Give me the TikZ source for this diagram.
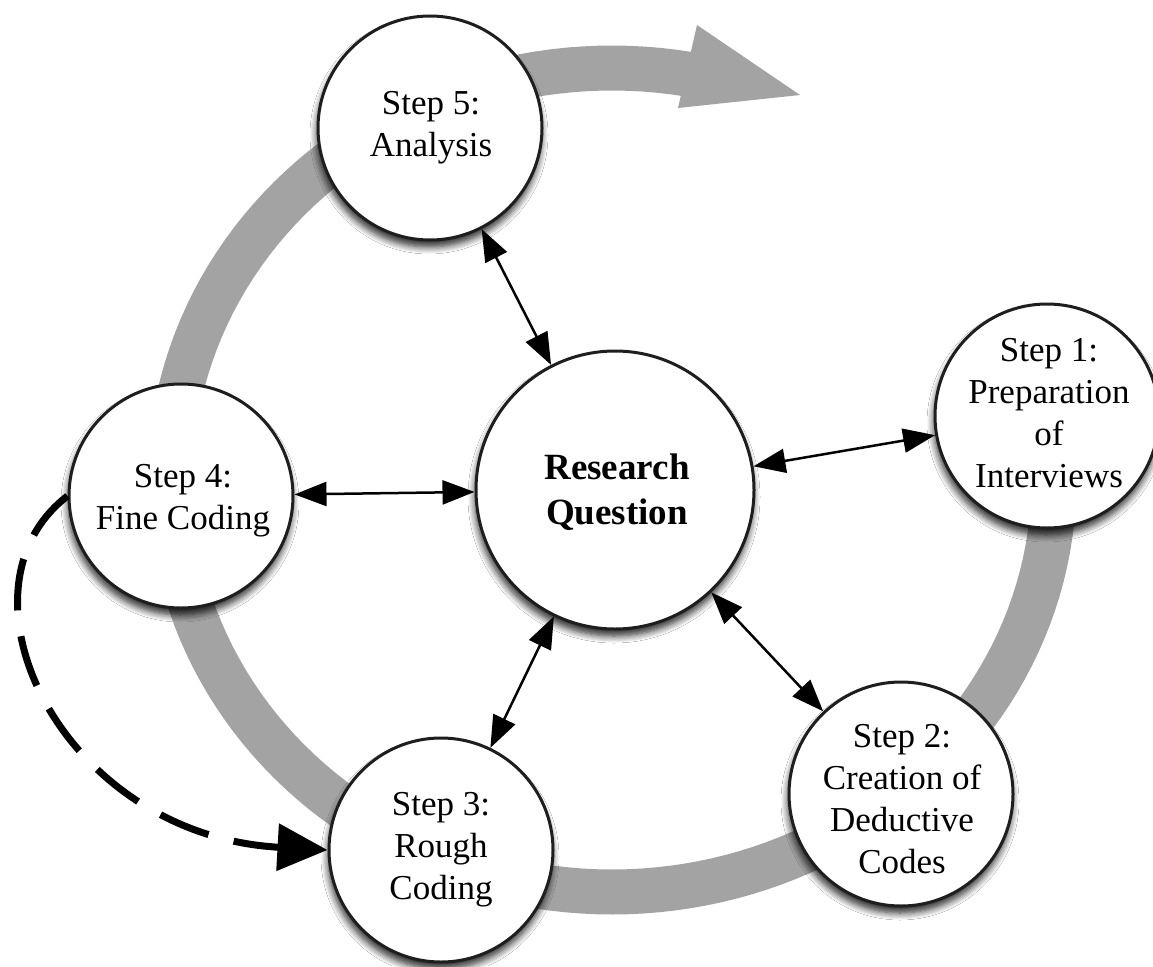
\documentclass[tikz,border=0pt]{standalone}
\usepackage{fontspec}
\setmainfont{Liberation Serif}
\usetikzlibrary{arrows.meta,shadows.blur}
\definecolor{bandgray}{RGB}{163,163,163}
\definecolor{edgec}{RGB}{30,30,30}
\tikzset{
 stepc/.style={circle, draw=edgec, line width=3pt, fill=white, minimum size=224pt, inner sep=0pt,
   blur shadow={shadow xshift=-1pt, shadow yshift=-7pt, shadow blur radius=7pt, shadow blur steps=8, shadow opacity=85}},
 rqc/.style={stepc, minimum size=278pt},
 steptxt/.style={font=\fontsize{35}{42}\selectfont, align=center, inner sep=0pt, text=black},
 rqtxt/.style={font=\fontsize{37}{45}\selectfont\bfseries, align=center, inner sep=0pt, text=black},
 band/.style={draw=bandgray, line width=45pt},
 dbl/.style={draw=black, line width=2.5pt, {Triangle[length=32pt,width=24pt]}-{Triangle[length=32pt,width=24pt]}},
 dasharrow/.style={draw=black, line width=7pt, dash pattern=on 52pt off 26pt, -{Triangle[length=50pt,width=46pt]}},
}
\begin{document}
\begin{tikzpicture}[x=1pt,y=-1pt]
\fill[white] (0,0) rectangle (1153,966);
% grey process band
\draw[band] plot[domain=-10:282,samples=150] ({612+442*cos(\x)},{480+412*sin(\x)});
\fill[bandgray] (697,25) -- (800,95) -- (678,108) -- cycle;
% circles
\node[rqc]   (rq) at (615,490) {};
\node[stepc] (s1) at (1047,416) {};
\node[stepc] (s2) at (901,794) {};
\node[stepc] (s3) at (441,850) {};
\node[stepc] (s4) at (181,496) {};
\node[stepc] (s5) at (430,128) {};
% texts
\node[rqtxt]   (rqt) at (617,492) {Research\\Question};
\node[steptxt] (s1t) at (1049,413) {Step 1:\\Preparation\\of\\Interviews};
\node[steptxt] (s2t) at (902,799) {Step 2:\\Creation of\\Deductive\\Codes};
\node[steptxt] (s3t) at (441,850) {Step 3:\\Rough\\Coding};
\node[steptxt] (s4t) at (183,501) {Step 4:\\Fine Coding};
\node[steptxt] (s5t) at (431,128) {Step 5:\\Analysis};
% connectors
\draw[dbl] (s5) -- (rq);
\draw[dbl] (s4) -- (rq);
\draw[dbl] (rq) -- (s1);
\draw[dbl] (rq) -- (s2);
\draw[dbl] (rq) -- (s3);
\draw[dasharrow] (s4.west) .. controls (-55,590) and (60,835) .. (s3.west);
\pgfresetboundingbox
\useasboundingbox (0,0) rectangle (1153,966);
\end{tikzpicture}
\end{document}
